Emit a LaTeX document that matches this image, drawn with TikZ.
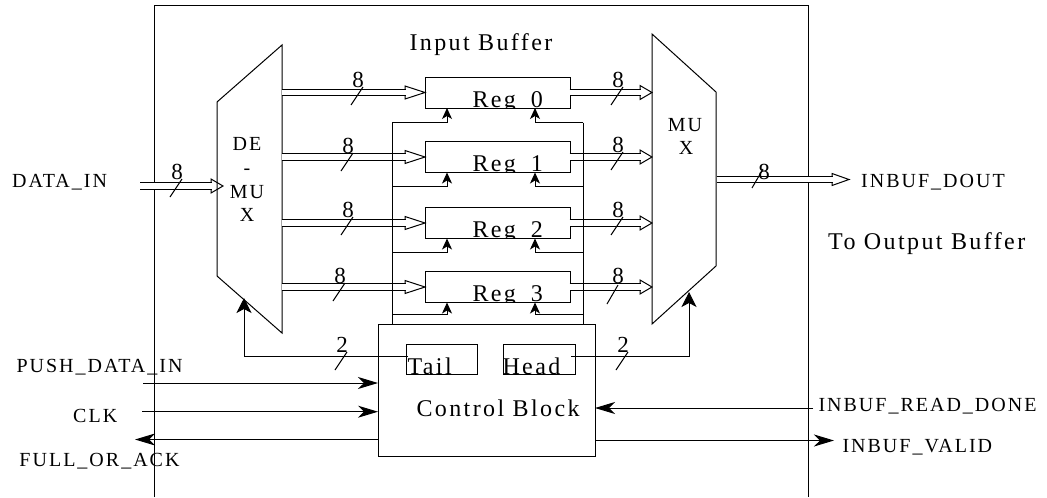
\documentclass[tikz,border=0pt]{standalone}
\usepackage{fontspec}
\setmainfont{Liberation Serif}
\newfontfamily\spaced[LetterSpace=10]{Liberation Serif}
\usetikzlibrary{arrows.meta}

\pgfdeclarearrow{
  name=BusHead,
  defaults={length=20pt,width=13pt},
  parameters={\the\pgfarrowlength,\the\pgfarrowwidth},
  setup code={
    \pgfarrowssettipend{\pgfarrowlength}
    \pgfarrowssetlineend{1pt}
    \pgfarrowssetbackend{0pt}
    \pgfarrowssetvisualbackend{0pt}
    \pgfarrowssavethe\pgfarrowlength
    \pgfarrowssavethe\pgfarrowwidth
  },
  drawing code={
    \pgfsetlinewidth{1pt}
    \pgfsetmiterjoin
    \pgfpathmoveto{\pgfpoint{0pt}{3.2pt}}
    \pgfpathlineto{\pgfpoint{0pt}{0.5\pgfarrowwidth}}
    \pgfpathlineto{\pgfpoint{\pgfarrowlength}{0pt}}
    \pgfpathlineto{\pgfpoint{0pt}{-0.5\pgfarrowwidth}}
    \pgfpathlineto{\pgfpoint{0pt}{-3.2pt}}
    \pgfusepathqstroke
  }
}

\tikzset{
  txt/.style={inner sep=0pt, anchor=base west, font=\spaced\fontsize{20}{24}\selectfont},
  bigtxt/.style={inner sep=0pt, anchor=base west, font=\spaced\fontsize{24}{28}\selectfont},
  midtxt/.style={inner sep=0pt, anchor=base, font=\spaced\fontsize{20}{24}\selectfont},
  width label/.style={inner sep=0pt, font=\fontsize{23}{25}\selectfont},
  box/.style={draw, inner sep=0pt, outer sep=0pt},
  bus/.style={double, double distance=5.5pt, -{BusHead[length=20pt,width=13pt]}},
  short bus/.style={double, double distance=5.5pt, -{BusHead[length=12pt,width=14pt]}},
  ptr/.style={-{Stealth[length=11pt,width=10pt,inset=3pt]}},
  sel/.style={-{Stealth[length=15pt,width=15pt,inset=4pt]}},
  ctl/.style={-{Stealth[length=20pt,width=12pt,inset=6pt]}}
}

\begin{document}
\begin{tikzpicture}[x=1pt, y=-1pt, line width=1pt]
  \useasboundingbox (0,0) rectangle (1047,498);

  % frame, open at the bottom
  \draw (154,497) -- (154,5.5) -- (808,5.5) -- (808,497);

  % demux and mux
  \draw (217,102) -- (282,45) -- (282,333) -- (217,276) -- cycle;
  \draw (652,34) -- (716,92) -- (716,266) -- (652,324) -- cycle;
  \coordinate (demuxout) at (281.5,0);
  \coordinate (muxin) at (652,0);
  \coordinate (demuxsel) at (244,298);
  \coordinate (muxsel) at (689,292);

  % registers
  \foreach \i/\y in {0/92.5,1/157,2/223,3/287} {
    \node[box, minimum width=145pt, minimum height=31pt] (reg\i) at (497.5,\y) {};
    \draw[bus] (reg\i.west -| demuxout) -- (reg\i.west);
    \draw[short bus] ([xshift=-0.5pt]reg\i.east) -- (reg\i.east -| muxin);
    \begin{scope}
      \clip (reg\i.south west) rectangle (reg\i.north east);
      \node[bigtxt] (regtext\i) at ([xshift=-25.5pt,yshift=1pt]reg\i.south) {Reg\hskip 15pt \i};
    \end{scope}
  }

  % control block
  \node[box, minimum width=217pt, minimum height=132pt] (control) at (486.5,390) {};
  \node[box, minimum width=71pt, minimum height=30pt] (tail) at (441.5,359) {};
  \node[box, minimum width=72pt, minimum height=30pt] (head) at (539.5,359) {};
  \node[bigtxt] (tailtext) at (407,374) {Tail};
  \node[bigtxt] (headtext) at (502,374) {Head};
  \node[bigtxt] (controltext) at (416,416.7) {Control Block};
  \coordinate (tailout) at (408,356);
  \coordinate (headout) at (571,356);
  \draw[sel] (tailout) -| (demuxsel);
  \draw[sel] (headout) -| (muxsel);

  % pointer lines up to the registers
  \foreach \i/\y in {0/122.5,1/186.7,2/252,3/314.7} {
    \coordinate (tailbranch\i) at (392,\y);
    \coordinate (headbranch\i) at (583,\y);
    \draw[ptr] (tailbranch\i) -| ([xshift=-50.5pt]reg\i.south);
    \draw[ptr] (headbranch\i) -| ([xshift=37.5pt]reg\i.south);
  }
  \draw (tailbranch0) -- (tailbranch0 |- control.north);
  \draw (headbranch0) -- (headbranch0 |- control.north);

  % outer signals
  \coordinate (datain) at (140,186);
  \coordinate (demuxin) at (223,186);
  \draw[short bus] (datain) -- (demuxin);
  \coordinate (muxout) at (716.5,179.5);
  \coordinate (dout) at (849,179.5);
  \draw[bus, -{BusHead[length=17pt,width=12pt]}] (muxout) -- (dout);
  \coordinate (pushin) at (143,383);
  \coordinate (clkin) at (142,411.7);
  \coordinate (fullout) at (135,439.5);
  \coordinate (readin) at (813,408);
  \coordinate (validout) at (834,440.5);
  \draw[ctl] (pushin) -- (pushin -| control.west);
  \draw[ctl] (clkin) -- (clkin -| control.west);
  \draw[ctl] (fullout -| control.west) -- (fullout);
  \draw[ctl] (readin) -- (readin -| control.east);
  \draw[ctl] (validout -| control.east) -- (validout);

  % bus width marks
  \foreach \x/\y/\w in {358/80/8,348/146/8,348/210/8,340/276/8,177/172/8,618/80/8,618/145/8,618/210/8,342/345/2,623/345/2} {
    \node[width label] (mark\x-\y) at (\x,\y) {\w};
    \draw (\x-7,\y+25) -- (\x+5,\y+7);
  }
  \node[width label] (markrow3) at (618,276) {8};
  \draw (607,304) -- (618,285);
  \node[width label] (markout) at (764,172) {8};
  \draw (752,188) -- (763,169);

  % texts
  \node[bigtxt] (title) at (409,50) {Input Buffer};
  \node[midtxt] (de) at (247,150) {DE};
  \node[midtxt] (dash) at (247,174) {-};
  \node[midtxt] (mu) at (247,198) {MU};
  \node[midtxt] (x) at (247,221) {X};
  \node[midtxt] (mu2) at (685,131) {MU};
  \node[midtxt] (x2) at (686,154) {X};
  \node[txt] (datalabel) at (11.7,187) {DATA\_IN};
  \node[txt] (pushlabel) at (16,372.7) {PUSH\_DATA\_IN};
  \node[txt] (clklabel) at (72.7,422) {CLK};
  \node[txt] (fulllabel) at (19,466) {FULL\_OR\_ACK};
  \node[txt] (doutlabel) at (860.7,187) {INBUF\_DOUT};
  \node[bigtxt] (tooutput) at (827.7,249) {To Output Buffer};
  \node[txt] (readlabel) at (818,411) {INBUF\_READ\_DONE};
  \node[txt] (validlabel) at (842,452) {INBUF\_VALID};
\end{tikzpicture}
\end{document}
